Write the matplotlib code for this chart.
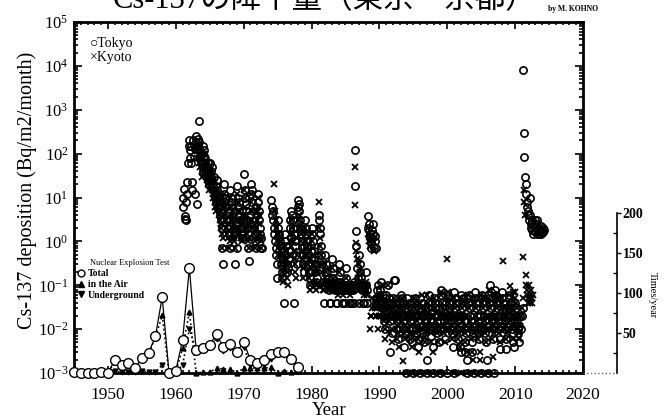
import numpy as np
import matplotlib
matplotlib.use('Agg')
import matplotlib.pyplot as plt
from matplotlib.lines import Line2D
from matplotlib.ticker import MultipleLocator, LogLocator, NullFormatter, FixedLocator

plt.rcParams['font.family'] = ['Liberation Serif', 'DejaVu Sans']
plt.rcParams['mathtext.fontset'] = 'custom'
plt.rcParams['mathtext.rm'] = 'Liberation Serif'

N = None
# ---------------- Tokyo monthly deposition (Bq/m2/month) ----------------
tokyo_years = list(range(1961, 2015))
tokyo_monthly = [
    [6, 10, 16, 3.2, 3.7, 3.0, 8, 12, 23, 60, 150, 200],          # 1961
    [120, 80, 150, 60, 23, 15, 200, 160, 90, 12, 130, 180],       # 1962
    [250, 7, 220, 150, 560, 180, 90, 120, 70, 60, 100, 40],       # 1963
    [150, 90, 120, 60, 80, 50, 40, 30, 60, 25, 40, 20],           # 1964
    [60, 40, 30, 50, 25, 20, 15, 30, 12, 10, 8, 18],              # 1965
    [25, 15, 10, 12, 6, 8, 4, 3, 5, 2, 0.72, 0.3],                # 1966
    [20, 12, 8, 6, 10, 4, 3, 2, 5, 1.5, 3, 0.72],                 # 1967
    [15, 8, 6, 10, 4, 3, 2, 1.5, 5, 0.3, 2.5, 0.72],              # 1968
    [18, 10, 6, 8, 4, 3, 2, 1.5, 1.2, 5, 3, 2],                   # 1969
    [35, 15, 10, 7, 5, 3, 2, 1.5, 0.72, 0.35, 4, 2.5],            # 1970
    [20, 12, 8, 15, 5, 3, 2, 1.5, 1, 0.72, 6, 4],                 # 1971
    [12, 8, 5, 3, 2, 1.5, 1.2, 0.72, 0.72, N, N, N],              # 1972
    [N, N, N, N, N, N, N, N, N, N, N, N],                         # 1973
    [9, 6, 4, 3, 5, 2, 1.5, 1, 0.7, 0.5, 0.3, 0.15],              # 1974
    [3, 2, 1.5, 1, 0.8, 0.5, 0.3, 0.2, 0.15, 0.4, 0.6, 0.04],     # 1975
    [1.5, 1, 0.8, 0.5, 0.3, 0.2, 0.25, 0.6, 0.4, 2, 3, 1.2],      # 1976
    [5, 4, 3, 2, 0.04, 1.5, 1, 0.8, 0.5, 0.3, 2, 6],              # 1977
    [9, 7, 5, 3, 2, 1.5, 1, 0.7, 0.5, 0.3, 0.2, 0.8],             # 1978
    [3, 2, 1.5, 1, 0.8, 0.5, 0.3, 0.2, 0.15, 0.1, 0.4, 0.6],      # 1979
    [2, 1.5, 1, 0.6, 0.4, 0.3, 0.2, 0.12, 0.1, 0.15, 0.3, 0.5],   # 1980
    [4, 3, 2, 1.5, 0.8, 0.5, 0.3, 0.12, 0.1, 0.1, 0.04, 0.2],     # 1981
    [0.5, 0.3, 0.2, 0.12, 0.1, 0.1, 0.08, 0.1, 0.04, 0.04, 0.1, 0.15],   # 1982
    [0.4, 0.25, 0.15, 0.1, 0.1, 0.08, 0.1, 0.04, 0.04, 0.1, 0.08, 0.12], # 1983
    [0.3, 0.2, 0.12, 0.1, 0.08, 0.1, 0.04, 0.04, 0.1, 0.1, 0.08, 0.04],  # 1984
    [0.25, 0.15, 0.1, 0.1, 0.08, 0.04, 0.1, 0.04, 0.1, 0.08, 0.1, 0.04], # 1985
    [0.1, 0.08, 0.04, 0.12, 120, 18, 1.7, 0.8, 0.25, 0.15, 0.1, 0.04],   # 1986
    [0.5, 0.3, 0.2, 0.15, 0.1, 0.08, 0.1, 0.04, 0.04, 0.08, 0.1, 0.2],   # 1987
    [0.1, 0.08, 0.04, 2, 3.7, 2.5, 1.5, 1.2, 0.9, 0.72, 1.8, 1.2],       # 1988
    [2.5, 1.5, 0.72, 1, 1.3, 0.72, 0.04, 0.05, 0.08, 0.1, 0.06, 0.04],   # 1989
    [0.08, 0.05, 0.12, 0.04, 0.03, 0.06, 0.02, 0.015, 0.03, 0.05, 0.01, 0.04],   # 1990
    [0.06, 0.04, 0.1, 0.03, 0.02, 0.05, 0.003, 0.015, 0.04, 0.02, 0.008, 0.03],  # 1991
    [0.05, 0.03, 0.13, 0.13, 0.02, 0.04, 0.01, 0.015, 0.03, 0.006, 0.02, 0.04],  # 1992
    [0.04, 0.06, 0.03, 0.02, 0.05, 0.01, 0.015, 0.004, 0.03, 0.02, 0.008, 0.001],# 1993
    [0.03, 0.05, 0.02, 0.04, 0.01, 0.015, 0.006, 0.02, 0.03, 0.005, 0.01, 0.001],# 1994
    [0.04, 0.02, 0.05, 0.03, 0.01, 0.008, 0.02, 0.004, 0.015, 0.03, 0.006, 0.001],   # 1995
    [0.05, 0.03, 0.02, 0.04, 0.012, 0.008, 0.02, 0.005, 0.03, 0.01, 0.015, 0.001],   # 1996
    [0.002, 0.04, 0.03, 0.06, 0.02, 0.01, 0.015, 0.007, 0.025, 0.012, 0.004, 0.001], # 1997
    [0.05, 0.03, 0.04, 0.02, 0.01, 0.015, 0.008, 0.02, 0.03, 0.005, 0.01, 0.001],    # 1998
    [0.08, 0.06, 0.04, 0.03, 0.02, 0.015, 0.01, 0.025, 0.006, 0.012, 0.02, 0.001],   # 1999
    [0.06, 0.05, 0.04, 0.03, 0.02, 0.01, 0.015, 0.008, 0.02, 0.004, 0.012, 0.001],   # 2000
    [0.07, 0.05, 0.03, 0.04, 0.02, 0.015, 0.006, 0.01, 0.02, 0.012, 0.004, 0.003],   # 2001
    [0.06, 0.04, 0.03, 0.05, 0.02, 0.01, 0.005, 0.003, 0.015, 0.008, 0.002, 0.001],  # 2002
    [0.05, 0.04, 0.06, 0.03, 0.02, 0.015, 0.01, 0.005, 0.003, 0.008, 0.012, 0.001],  # 2003
    [0.07, 0.05, 0.04, 0.03, 0.02, 0.015, 0.008, 0.012, 0.006, 0.01, 0.02, 0.001],   # 2004
    [0.05, 0.06, 0.03, 0.04, 0.02, 0.01, 0.015, 0.008, 0.005, 0.012, 0.002, 0.001],  # 2005
    [0.06, 0.05, 0.04, 0.1, 0.07, 0.03, 0.02, 0.015, 0.01, 0.006, 0.012, 0.001],     # 2006
    [0.08, 0.06, 0.05, 0.04, 0.03, 0.02, 0.015, 0.01, 0.006, 0.0035, 0.012, 0.02],   # 2007
    [0.07, 0.05, 0.04, 0.03, 0.02, 0.015, 0.01, 0.0035, 0.006, 0.012, 0.02, 0.03],   # 2008
    [0.06, 0.05, 0.04, 0.03, 0.02, 0.015, 0.01, 0.008, 0.005, 0.004, 0.012, 0.02],   # 2009
    [0.04, 0.03, 0.02, 0.015, 0.01, 0.008, 0.005, 0.012, 0.02, 0.01, N, N],          # 2010
    [0.02, 0.03, 8000, 300, 85, 30, 20, 12, 8, 6, 4, 5],                # 2011
    [3, 4, 10, 2.5, 2, 3, 1.8, 1.5, 2.2, 1.7, 2.5, 3],                 # 2012
    [2, 2.5, 3, 1.5, 1.7, 2, 1.5, 1.8, 1.6, 2.2, 1.5, 1.7],            # 2013
    [2, 1.6, 1.8, N, N, N, N, N, N, N, N, N],                          # 2014
]

# ---------------- Kyoto monthly deposition (Bq/m2/month) ----------------
kyoto_years = list(range(1963, 2013))
kyoto_monthly = [
    [120, 80, 200, 150, 100, 60, 80, 50, 70, 40, 30, 60],         # 1963
    [80, 60, 100, 50, 40, 30, 60, 25, 20, 35, 15, 30],            # 1964
    [40, 30, 20, 25, 15, 12, 10, 18, 8, 6, 12, 5],                # 1965
    [15, 10, 8, 6, 4, 5, 3, 2.5, 2, 1.5, 0.72, 1.2],              # 1966
    [12, 8, 6, 4, 3, 2, 1.5, 2.5, 1.2, 0.72, 1.8, 1],             # 1967
    [10, 6, 4, 3, 2, 1.5, 1.2, 1, 0.72, 2, 3, 1.5],               # 1968
    [12, 8, 5, 3, 2, 1.5, 1.2, 2.5, 1, 3, 4, 2],                  # 1969
    [15, 10, 6, 4, 3, 2, 1.5, 1.2, 1, 0.72, 2.5, 3],              # 1970
    [12, 8, 5, 3, 2, 1.5, 1.2, 1, 0.72, 2, 5, 3],                 # 1971
    [10, 6, 4, 2.5, 1.5, 1.2, 1, 0.72, N, N, N, N],               # 1972
    [N, N, N, N, N, N, N, N, N, N, N, N],                         # 1973
    [N, N, N, N, N, N, 20, 5, 3, 2, 1.5, 1],                      # 1974
    [0.7, 0.5, 1.5, 1, 0.8, 0.5, 0.3, 0.2, 0.15, 0.12, 0.25, 0.4],# 1975
    [0.8, 0.6, 0.4, 0.3, 0.2, 0.15, 0.1, 0.3, 0.5, 1, 1.5, 0.8],  # 1976
    [3, 2, 1.5, 1, 0.6, 0.4, 0.3, 0.2, 0.15, 0.5, 1.2, 3],        # 1977
    [6, 4, 3, 2, 1.5, 1, 0.6, 0.4, 0.25, 0.15, 0.3, 0.5],         # 1978
    [2, 1.5, 1, 0.7, 0.5, 0.3, 0.2, 0.15, 0.1, 0.08, 0.25, 0.4],  # 1979
    [1.5, 1, 0.7, 0.5, 0.3, 0.2, 0.12, 0.1, 0.08, 0.1, 0.2, 0.3], # 1980
    [7.8, 2, 1.2, 0.8, 0.5, 0.3, 0.2, 0.1, 0.08, 0.08, 0.1, 0.15],# 1981
    [0.3, 0.2, 0.12, 0.1, 0.1, 0.08, 0.1, 0.08, 0.1, 0.08, 0.12, 0.1],   # 1982
    [0.25, 0.15, 0.1, 0.08, 0.1, 0.12, 0.08, 0.1, 0.08, 0.1, 0.06, 0.1], # 1983
    [0.2, 0.12, 0.1, 0.08, 0.1, 0.08, 0.1, 0.06, 0.08, 0.1, 0.08, 0.1],  # 1984
    [0.15, 0.1, 0.08, 0.1, 0.08, 0.1, 0.08, 0.1, 0.06, 0.08, 0.1, 0.08], # 1985
    [0.1, 0.08, 0.1, 0.08, 50, 6.6, 0.9, 0.6, 0.4, 0.15, 0.1, 0.08],     # 1986
    [0.3, 0.2, 0.12, 0.1, 0.08, 0.1, 0.08, 0.1, 0.06, 0.08, 0.1, 0.12],  # 1987
    [0.08, 0.1, 0.06, 1.5, 2, 1, 0.8, 0.01, 0.02, 0.02, 0.05, 0.03],     # 1988
    [1, 0.8, 0.6, 0.04, 0.03, 0.02, 0.02, 0.05, 0.03, 0.01, 0.02, 0.04], # 1989
    [0.02, 0.05, 0.03, 0.02, 0.1, 0.04, 0.02, 0.015, 0.03, 0.01, 0.006, 0.02],     # 1990
    [0.02, 0.04, 0.03, 0.1, 0.02, 0.015, 0.008, 0.02, 0.03, 0.01, 0.005, 0.02],    # 1991
    [0.03, 0.02, 0.05, 0.04, 0.015, 0.01, 0.006, 0.02, 0.008, 0.012, 0.004, 0.03], # 1992
    [0.04, 0.03, 0.02, 0.05, 0.015, 0.01, 0.0019, 0.008, 0.012, 0.006, 0.02, 0.001],   # 1993
    [0.03, 0.02, 0.04, 0.015, 0.01, 0.006, 0.008, 0.012, 0.02, 0.004, 0.001, 0.001],   # 1994
    [0.05, 0.03, 0.02, 0.04, 0.012, 0.008, 0.015, 0.006, 0.01, 0.02, 0.003, 0.001],    # 1995
    [0.04, 0.03, 0.06, 0.02, 0.01, 0.015, 0.007, 0.012, 0.005, 0.02, 0.009, 0.001],    # 1996
    [0.06, 0.04, 0.03, 0.02, 0.015, 0.01, 0.008, 0.005, 0.012, 0.02, 0.003, 0.001],    # 1997
    [0.05, 0.04, 0.03, 0.025, 0.015, 0.01, 0.008, 0.005, 0.012, 0.02, 0.001, 0.001],   # 1998
    [0.06, 0.07, 0.04, 0.03, 0.02, 0.012, 0.008, 0.015, 0.005, 0.01, 0.02, 0.4],       # 1999
    [0.07, 0.05, 0.03, 0.04, 0.02, 0.01, 0.015, 0.006, 0.012, 0.008, 0.02, 0.001],     # 2000
    [0.05, 0.04, 0.03, 0.02, 0.015, 0.01, 0.006, 0.012, 0.008, 0.02, 0.004, 0.001],    # 2001
    [0.05, 0.03, 0.04, 0.02, 0.015, 0.01, 0.005, 0.008, 0.012, 0.02, 0.003, 0.001],    # 2002
    [0.06, 0.04, 0.03, 0.02, 0.015, 0.01, 0.006, 0.003, 0.012, 0.002, 0.008, 0.001],   # 2003
    [0.05, 0.04, 0.03, 0.02, 0.015, 0.01, 0.006, 0.012, 0.008, 0.002, 0.003, 0.001],   # 2004
    [0.06, 0.04, 0.03, 0.05, 0.02, 0.012, 0.008, 0.015, 0.005, 0.01, 0.02, 0.001],     # 2005
    [0.05, 0.04, 0.08, 0.03, 0.02, 0.015, 0.01, 0.006, 0.012, 0.0023, 0.008, 0.02],    # 2006
    [0.06, 0.05, 0.04, 0.03, 0.02, 0.015, 0.01, 0.008, 0.012, 0.005, 0.02, 0.03],      # 2007
    [0.05, 0.04, 0.35, 0.03, 0.02, 0.015, 0.01, 0.006, 0.012, 0.008, 0.02, 0.03],      # 2008
    [0.04, 0.06, 0.095, 0.03, 0.02, 0.015, 0.01, 0.006, 0.07, 0.012, 0.02, 0.07],      # 2009
    [0.05, 0.04, 0.03, 0.02, 0.015, 0.01, 0.008, 0.006, 0.012, 0.02, N, N],            # 2010
    [0.03, 0.05, 0.45, 15, 8, 4, 0.17, 0.1, 0.08, 0.06, 0.05, 0.04],                   # 2011
    [0.1, 0.06, 0.04, 0.05, 0.08, 0.04, 0.05, 0.06, N, N, N, N],                       # 2012
]

# ---------------- Nuclear explosion tests (times / year) ----------------
test_years = list(range(1945, 1979))
test_total = [1, 0, 0, 0, 1, 0, 16, 10, 13, 6, 19, 25, 46, 95, 0, 3, 41, 131,
              29, 31, 35, 49, 32, 36, 26, 39, 16, 12, 16, 24, 26, 26, 18, 8]
test_air = [1, 0, 0, 0, 1, 0, 14, 9, 12, 5, 17, 24, 45, 72, 0, 2, 31, 76,
            0, 1, 1, 6, 5, 5, 0, 6, 6, 6, 6, 7, 0, 3, 1, 2]
test_underground = [0, 0, 0, 0, 0, 0, 2, 1, 1, 1, 2, 1, 1, 10, 0, 1, 10, 55,
                    29, 30, 34, 43, 27, 31, 26, 33, 10, 6, 10, 17, 26, 23, 17, 6]

x_ticks = [1950, 1960, 1970, 1980, 1990, 2000, 2010, 2020]
right_ticks = [50, 100, 150, 200]


def flatten(years, monthly):
    t, v = [], []
    for y, row in zip(years, monthly):
        for m, val in enumerate(row):
            if val is not None:
                t.append(y + (m + 0.5) / 12.0)
                v.append(val)
    return np.array(t), np.array(v)


tt, tv = flatten(tokyo_years, tokyo_monthly)
kt, kv = flatten(kyoto_years, kyoto_monthly)

W, H = 666, 419
fig = plt.figure(figsize=(W / 100, H / 100), dpi=100)
L, R, T, B = 74, 583, 22, 373
ax = fig.add_axes([L / W, 1 - B / H, (R - L) / W, (B - T) / H])

ax.plot(tt, tv, ls='none', marker='o', mfc='none', mec='k', ms=5.2, mew=1.2, clip_on=False, zorder=3)
ax.plot(kt, kv, ls='none', marker='x', color='k', ms=5, mew=1.3, clip_on=False, zorder=3)

ax.set_yscale('log')
ax.set_ylim(1e-3, 1e5)
ax.set_xlim(1945, 2020)
ax.xaxis.set_major_locator(FixedLocator(x_ticks))
ax.xaxis.set_minor_locator(MultipleLocator(1))
ax.yaxis.set_major_locator(LogLocator(base=10, numticks=20))
ax.yaxis.set_minor_locator(LogLocator(base=10, subs=np.arange(2, 10), numticks=20))
ax.yaxis.set_minor_formatter(NullFormatter())
ax.tick_params(which='both', direction='in', top=True, right=True, width=1.2)
ax.tick_params(axis='x', which='major', length=5, labelsize=12.5, pad=10)
ax.tick_params(axis='x', which='minor', length=2.5)
ax.tick_params(axis='y', which='major', length=6, labelsize=12, pad=4)
ax.tick_params(axis='y', which='minor', length=3)
for s in ax.spines.values():
    s.set_linewidth(2)

# secondary axis for nuclear explosion tests
b2 = 213
ax2 = fig.add_axes([L / W, 1 - B / H, (R - L) / W, (B - b2) / H])
ax2.patch.set_visible(False)
for k in ['left', 'top', 'bottom']:
    ax2.spines[k].set_visible(False)
ax2.spines['right'].set_position(('outward', 24.5))
ax2.spines['right'].set_linewidth(1.2)
ax2.set_xlim(1945, 2020)
ax2.set_ylim(0, 200)
ax2.set_xticks([])
ax2.yaxis.tick_right()
ax2.set_yticks(right_ticks)
ax2.yaxis.set_minor_locator(FixedLocator([25, 75, 125, 175]))
ax2.tick_params(axis='y', which='major', direction='out', length=3, width=1, pad=1,
                labelsize=10)
ax2.tick_params(axis='y', which='minor', direction='in', length=3, width=1)
for lab in ax2.get_yticklabels():
    lab.set_fontweight('bold')

ax2.plot(test_years, test_air, ls=':', color='k', lw=1.2, marker='^', ms=3.5, zorder=4, clip_on=False)
ax2.plot(test_years, test_underground, ls=':', color='k', lw=1.2, marker='v', ms=3.5, zorder=4, clip_on=False)
ax2.plot(test_years, test_total, ls='-', color='k', lw=0.9, marker='o', mfc='white', mec='k',
         ms=7, mew=1.0, zorder=5, clip_on=False)

# dotted base line under secondary axis
fig.add_artist(Line2D([R / W, 617 / W], [1 - B / H, 1 - B / H], transform=fig.transFigure,
                      ls=':', color='0.4', lw=1))

# legend of explosion tests
handles = [Line2D([], [], ls='none', marker='o', mfc='white', mec='k', ms=5),
           Line2D([], [], ls='none', marker='^', color='k', ms=4),
           Line2D([], [], ls='none', marker='v', color='k', ms=4)]
leg = ax.legend(handles, ['Total', 'in the Air', 'Underground'],
                loc='upper left', bbox_to_anchor=(77 / W, 1 - 269 / H), bbox_transform=fig.transFigure,
                frameon=False, prop={'size': 7, 'weight': 'bold'},
                handlelength=0.8, handletextpad=0.3, labelspacing=0.2, borderpad=0,
                borderaxespad=0)
fig.text(90 / W, 1 - 263 / H, 'Nuclear Explosion Test', ha='left', va='center', fontsize=6)

# texts
fig.text(325 / W, 1 - 1 / H, 'Cs-137の降下量（東京・京都）', ha='center', va='center', fontsize=22,
         family=['Liberation Serif', 'Noto Sans CJK JP'])
fig.text(573 / W, 1 - 9 / H, 'by M. KOHNO', ha='center', va='center', fontsize=5.5, weight='bold')
fig.text(90 / W, 1 - 43 / H, '○Tokyo', ha='left', va='center', fontsize=10,
         family=['Liberation Serif', 'DejaVu Sans'])
fig.text(90 / W, 1 - 57 / H, '×Kyoto', ha='left', va='center', fontsize=10)
fig.text(27 / W, 1 - 190 / H, 'Cs-137 deposition (Bq/m2/month)', rotation=90, ha='center',
         va='center', fontsize=14.5)
fig.text(329 / W, 1 - 418.5 / H, 'Year', ha='center', va='bottom', fontsize=13.5)
fig.text(652 / W, 1 - 295 / H, 'Times/year', rotation=-90, ha='center', va='center', fontsize=7.5)

fig.savefig('out.png', dpi=100)
